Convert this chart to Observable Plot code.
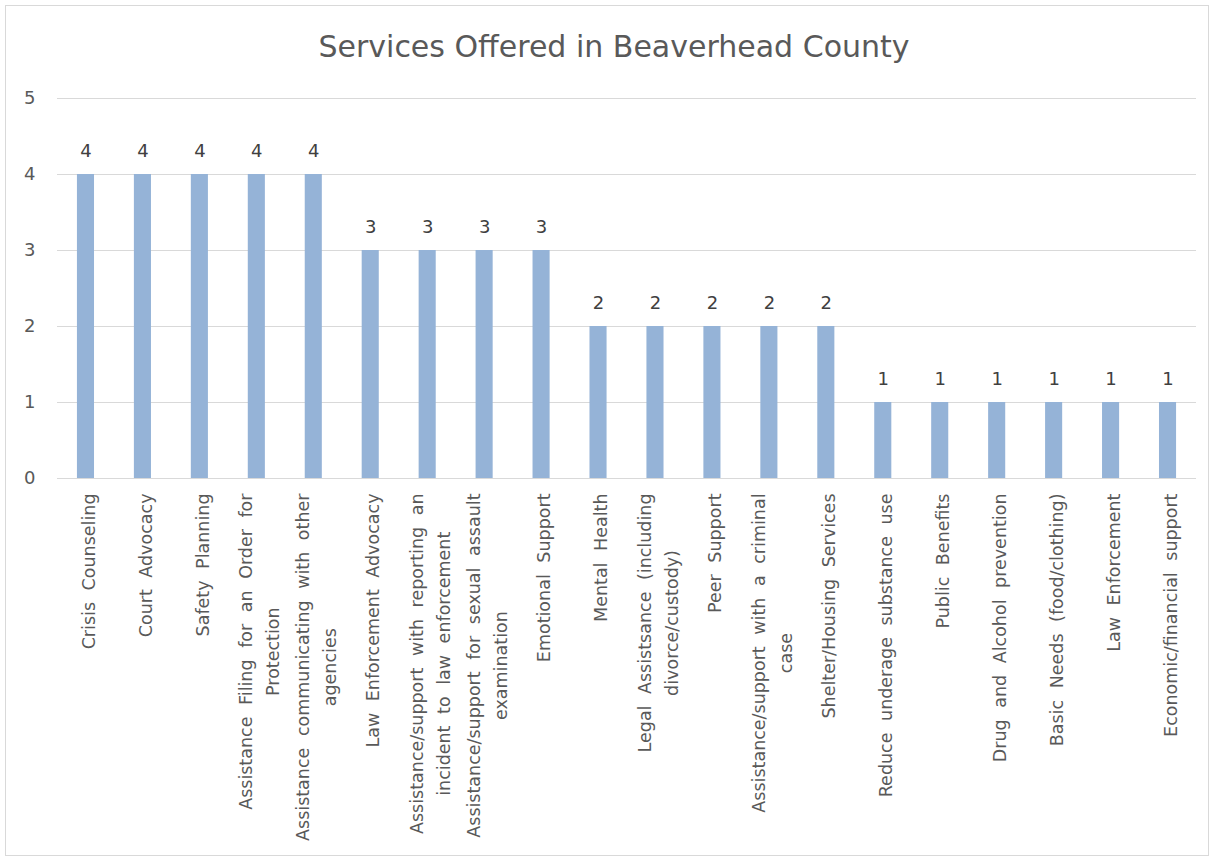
<!DOCTYPE html>
<html>
<head>
<meta charset="utf-8">
<script src="https://cdn.jsdelivr.net/npm/d3@7"></script>
<script src="https://cdn.jsdelivr.net/npm/@observablehq/plot@0.6"></script>
<style>
  html, body { margin: 0; padding: 0; background: #fff; }
  #wrap { position: relative; width: 1216px; height: 862px; overflow: hidden; font-family: "DejaVu Sans", sans-serif; }
  #frame { position: absolute; left: 5px; top: 5px; width: 1204px; height: 851px; border: 1px solid #d9d9d9; box-sizing: border-box; }
  #title { position: absolute; left: 0; top: 29px; width: 1228px; text-align: center; font-size: 30px; color: #595959; line-height: 36px; }
  #chart { position: absolute; left: 0; top: 80px; }
  g.xlabels text { word-spacing: 6px; }
</style>
</head>
<body>
<div id="wrap">
  <div id="frame"></div>
  <div id="title">Services Offered in Beaverhead County</div>
  <div id="chart"></div>
</div>
<script>
const categories = [
  "Crisis Counseling",
  "Court Advocacy",
  "Safety Planning",
  "Assistance Filing for an Order for Protection",
  "Assistance communicating with other agencies",
  "Law Enforcement Advocacy",
  "Assistance/support with reporting an incident to law enforcement",
  "Assistance/support for sexual assault examination",
  "Emotional Support",
  "Mental Health",
  "Legal Assistsance (including divorce/custody)",
  "Peer Support",
  "Assistance/support with a criminal case",
  "Shelter/Housing Services",
  "Reduce underage substance use",
  "Public Benefits",
  "Drug and Alcohol prevention",
  "Basic Needs (food/clothing)",
  "Law Enforcement",
  "Economic/financial support"
];

const values = [4, 4, 4, 4, 4, 3, 3, 3, 3, 2, 2, 2, 2, 2, 1, 1, 1, 1, 1, 1];

const tickLabels = [
  "Crisis Counseling",
  "Court Advocacy",
  "Safety Planning",
  "Assistance Filing for an Order for\nProtection",
  "Assistance communicating with other\nagencies",
  "Law Enforcement Advocacy",
  "Assistance/support with reporting an\nincident to law enforcement",
  "Assistance/support for sexual assault\nexamination",
  "Emotional Support",
  "Mental Health",
  "Legal Assistsance (including\ndivorce/custody)",
  "Peer Support",
  "Assistance/support with a criminal\ncase",
  "Shelter/Housing Services",
  "Reduce underage substance use",
  "Public Benefits",
  "Drug and Alcohol prevention",
  "Basic Needs (food/clothing)",
  "Law Enforcement",
  "Economic/financial support"
];

const yTicks = [0, 1, 2, 3, 4, 5];

const data = categories.map((c, i) => ({category: c, value: values[i], label: tickLabels[i]}));

const fontFamily = "'DejaVu Sans', sans-serif";

const plot = Plot.plot({
  width: 1216,
  height: 782,
  marginTop: 18,
  marginBottom: 384,
  marginLeft: 57,
  marginRight: 20,
  style: {fontFamily, background: "transparent", overflow: "visible"},
  x: {domain: categories, paddingInner: 0.7, paddingOuter: 0.35, round: false, axis: null},
  y: {domain: [0, 5], ticks: yTicks, axis: null},
  marks: [
    Plot.gridY(yTicks, {stroke: "#d9d9d9", strokeOpacity: 1, strokeWidth: 1}),
    Plot.axisY(yTicks, {tickSize: 0, tickPadding: 22, fontSize: 18, fill: "#595959", label: null, tickFormat: d => String(d)}),
    Plot.barY(data, {x: "category", y: "value", fill: "#95b3d7"}),
    Plot.text(data, {x: "category", y: "value", text: d => String(d.value), dy: -23.5, fontSize: 18, fill: "#404040"}),
    Plot.text(data, {x: "category", text: "label", frameAnchor: "bottom", rotate: -90, textAnchor: "middle", lineAnchor: "middle", lineHeight: 1.55, fontSize: 17.5, fill: "#595959", className: "xlabels"})
  ]
});

document.getElementById("chart").appendChild(plot);

// shift each rotated label so its longest line starts just below the axis
const gap = 15;
plot.querySelectorAll("g.xlabels text").forEach(t => {
  const spans = t.querySelectorAll("tspan");
  let maxLen = 0;
  if (spans.length) spans.forEach(s => { maxLen = Math.max(maxLen, s.getComputedTextLength()); });
  else maxLen = t.getComputedTextLength();
  const tr = t.getAttribute("transform") || "";
  t.setAttribute("transform", tr + ` translate(${-(gap + maxLen / 2)},0)`);
});
</script>
</body>
</html>
